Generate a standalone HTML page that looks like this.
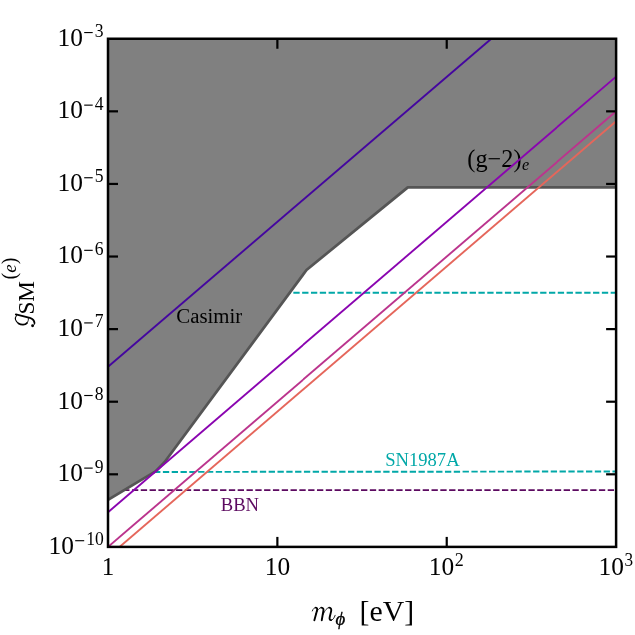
<!DOCTYPE html>
<html><head><meta charset="utf-8"><title>plot</title>
<style>html,body{margin:0;padding:0;background:#fff;overflow:hidden;}svg{display:block;position:absolute;left:0;top:0;}text{font-family:"Liberation Serif", serif;}</style>
</head><body>
<svg width="635" height="635" viewBox="0 0 635 635">
<rect x="0" y="0" width="635" height="635" fill="#ffffff"/>
<g style="opacity:0.999">
<defs><clipPath id="ax"><rect x="108.00" y="38.75" width="508.10" height="508.15"/></clipPath></defs>
<g clip-path="url(#ax)" fill="none" stroke-width="1.95">
<line x1="284.52" y1="292.70" x2="618.10" y2="292.80" stroke="#00a8a8" stroke-dasharray="6.320 2.495"/>
<line x1="145.25" y1="471.95" x2="618.10" y2="471.50" stroke="#00a8a8" stroke-dasharray="6.320 2.495"/>
<line x1="114.35" y1="490.10" x2="618.10" y2="490.10" stroke="#5c0a60" stroke-dasharray="6.320 2.490"/>
</g>
<g clip-path="url(#ax)">
<polygon points="102.00,503.40 108.00,499.80 155.50,471.40 164.70,462.00 306.50,270.00 407.80,187.30 622.10,187.30 622.10,32.75 102.00,32.75" fill="#808080" stroke="#555555" stroke-width="2.8" stroke-linejoin="round"/>
</g>
<text x="176.3" y="322.8" font-size="20.8" fill="#000">Casimir</text>
<text x="467.3" y="166.5" font-size="24.3" fill="#000" textLength="54.2" lengthAdjust="spacingAndGlyphs">(g−2)</text>
<text x="522.0" y="170.0" font-size="16.2" font-style="italic" fill="#000">e</text>
<text x="385.2" y="465.5" font-size="18.2" textLength="74.4" lengthAdjust="spacingAndGlyphs" fill="#00a8a8">SN1987A</text>
<text x="220.8" y="510.6" font-size="18.6" fill="#5c0a60">BBN</text>
<g clip-path="url(#ax)" fill="none" stroke-width="1.90">
<line x1="108.00" y1="366.77" x2="491.30" y2="38.75" stroke="#44069f"/>
<line x1="108.00" y1="512.16" x2="616.10" y2="76.60" stroke="#8a04b0"/>
<line x1="108.00" y1="546.90" x2="616.10" y2="111.34" stroke="#bb348d"/>
<line x1="108.00" y1="556.82" x2="616.10" y2="121.26" stroke="#e5665b"/>
</g>
<g stroke="#000" stroke-width="2.2" fill="none">
<line x1="277.37" y1="546.90" x2="277.37" y2="536.90"/>
<line x1="277.37" y1="38.75" x2="277.37" y2="48.75"/>
<line x1="446.73" y1="546.90" x2="446.73" y2="536.90"/>
<line x1="446.73" y1="38.75" x2="446.73" y2="48.75"/>
<line x1="108.00" y1="474.31" x2="118.00" y2="474.31"/>
<line x1="616.10" y1="474.31" x2="606.10" y2="474.31"/>
<line x1="108.00" y1="401.71" x2="118.00" y2="401.71"/>
<line x1="616.10" y1="401.71" x2="606.10" y2="401.71"/>
<line x1="108.00" y1="329.12" x2="118.00" y2="329.12"/>
<line x1="616.10" y1="329.12" x2="606.10" y2="329.12"/>
<line x1="108.00" y1="256.53" x2="118.00" y2="256.53"/>
<line x1="616.10" y1="256.53" x2="606.10" y2="256.53"/>
<line x1="108.00" y1="183.94" x2="118.00" y2="183.94"/>
<line x1="616.10" y1="183.94" x2="606.10" y2="183.94"/>
<line x1="108.00" y1="111.34" x2="118.00" y2="111.34"/>
<line x1="616.10" y1="111.34" x2="606.10" y2="111.34"/>
</g>
<rect x="108.00" y="38.75" width="508.10" height="508.15" fill="none" stroke="#000" stroke-width="2.50"/>
<text x="48.54" y="553.70" font-size="25.0" textLength="25.4" lengthAdjust="spacingAndGlyphs">10</text>
<line x1="75.20" y1="540.70" x2="84.20" y2="540.70" stroke="#000" stroke-width="1.15"/>
<text x="86.30" y="545.20" font-size="18.2" textLength="17.60" lengthAdjust="spacingAndGlyphs">10</text>
<text x="57.64" y="481.11" font-size="25.0" textLength="25.4" lengthAdjust="spacingAndGlyphs">10</text>
<line x1="84.20" y1="468.11" x2="92.70" y2="468.11" stroke="#000" stroke-width="1.15"/>
<text x="94.70" y="472.61" font-size="18.2" textLength="8.80" lengthAdjust="spacingAndGlyphs">9</text>
<text x="57.64" y="408.51" font-size="25.0" textLength="25.4" lengthAdjust="spacingAndGlyphs">10</text>
<line x1="84.20" y1="395.51" x2="92.70" y2="395.51" stroke="#000" stroke-width="1.15"/>
<text x="94.70" y="400.01" font-size="18.2" textLength="8.80" lengthAdjust="spacingAndGlyphs">8</text>
<text x="57.64" y="335.92" font-size="25.0" textLength="25.4" lengthAdjust="spacingAndGlyphs">10</text>
<line x1="84.20" y1="322.92" x2="92.70" y2="322.92" stroke="#000" stroke-width="1.15"/>
<text x="94.70" y="327.42" font-size="18.2" textLength="8.80" lengthAdjust="spacingAndGlyphs">7</text>
<text x="57.64" y="263.33" font-size="25.0" textLength="25.4" lengthAdjust="spacingAndGlyphs">10</text>
<line x1="84.20" y1="250.33" x2="92.70" y2="250.33" stroke="#000" stroke-width="1.15"/>
<text x="94.70" y="254.83" font-size="18.2" textLength="8.80" lengthAdjust="spacingAndGlyphs">6</text>
<text x="57.64" y="190.74" font-size="25.0" textLength="25.4" lengthAdjust="spacingAndGlyphs">10</text>
<line x1="84.20" y1="177.74" x2="92.70" y2="177.74" stroke="#000" stroke-width="1.15"/>
<text x="94.70" y="182.24" font-size="18.2" textLength="8.80" lengthAdjust="spacingAndGlyphs">5</text>
<text x="57.64" y="118.14" font-size="25.0" textLength="25.4" lengthAdjust="spacingAndGlyphs">10</text>
<line x1="84.20" y1="105.14" x2="92.70" y2="105.14" stroke="#000" stroke-width="1.15"/>
<text x="94.70" y="109.64" font-size="18.2" textLength="8.80" lengthAdjust="spacingAndGlyphs">4</text>
<text x="57.64" y="45.55" font-size="25.0" textLength="25.4" lengthAdjust="spacingAndGlyphs">10</text>
<line x1="84.20" y1="32.55" x2="92.70" y2="32.55" stroke="#000" stroke-width="1.15"/>
<text x="94.70" y="37.05" font-size="18.2" textLength="8.80" lengthAdjust="spacingAndGlyphs">3</text>
<text x="108.00" y="575.00" font-size="25.0" text-anchor="middle">1</text>
<text x="264.84" y="575.00" font-size="25.0" textLength="25.4" lengthAdjust="spacingAndGlyphs">10</text>
<text x="428.74" y="575.00" font-size="25.0" textLength="25.4" lengthAdjust="spacingAndGlyphs">10</text>
<text x="454.80" y="565.90" font-size="18.4" textLength="9.00" lengthAdjust="spacingAndGlyphs">2</text>
<text x="598.64" y="575.00" font-size="25.0" textLength="25.4" lengthAdjust="spacingAndGlyphs">10</text>
<text x="624.50" y="566.40" font-size="19.2" textLength="8.60" lengthAdjust="spacingAndGlyphs">3</text>
<g transform="translate(300,590) scale(0.094488)" fill="none" stroke="#000" stroke-linecap="round" stroke-linejoin="round">
<path d="M130,222 C140,195 155,184 167,185" stroke-width="9"/>
<path d="M167,186 C183,187 184,200 180,216 L152,320" stroke-width="20"/>
<path d="M166,258 C182,215 205,186 226,186" stroke-width="9"/>
<path d="M226,187 C247,188 251,203 247,222 L230,320" stroke-width="20"/>
<path d="M246,258 C262,215 287,186 309,186" stroke-width="9"/>
<path d="M309,187 C330,188 334,204 329,226 L314,288 C310,308 316,318 328,319" stroke-width="20"/>
<path d="M328,321 C345,321 362,298 372,268" stroke-width="9"/>
</g>
<text x="335.6" y="624.8" font-size="18.8" font-style="italic" stroke="#000" stroke-width="0.35">ϕ</text>
<text x="359.6" y="620.6" font-size="30" textLength="54.6" lengthAdjust="spacingAndGlyphs">[eV]</text>
<g transform="translate(28.0,326) rotate(-90)">
<text x="11.4" y="5.6" font-size="23.8" textLength="33.6" lengthAdjust="spacingAndGlyphs">SM</text>
<text x="46.5" y="-11.9" font-size="20.3">(<tspan font-style="italic" font-size="19">e</tspan>)</text>
</g>
<g transform="translate(5,300) scale(0.062992)" fill="none" stroke="#000" stroke-linecap="round" stroke-linejoin="round">
<path d="M172,228 L395,283 C440,296 466,330 468,366" stroke-width="29"/>
<path d="M468,366 C470,388 463,402 448,408" stroke-width="15"/>
<circle cx="438" cy="408" r="23" fill="#000" stroke="none"/>
<path d="M182,246 C150,290 162,338 215,372" stroke-width="17"/>
<path d="M215,372 C260,400 320,398 348,366" stroke-width="28"/>
<path d="M348,366 C370,340 376,310 370,286" stroke-width="14"/>
</g>
</g>
</svg></body></html>
